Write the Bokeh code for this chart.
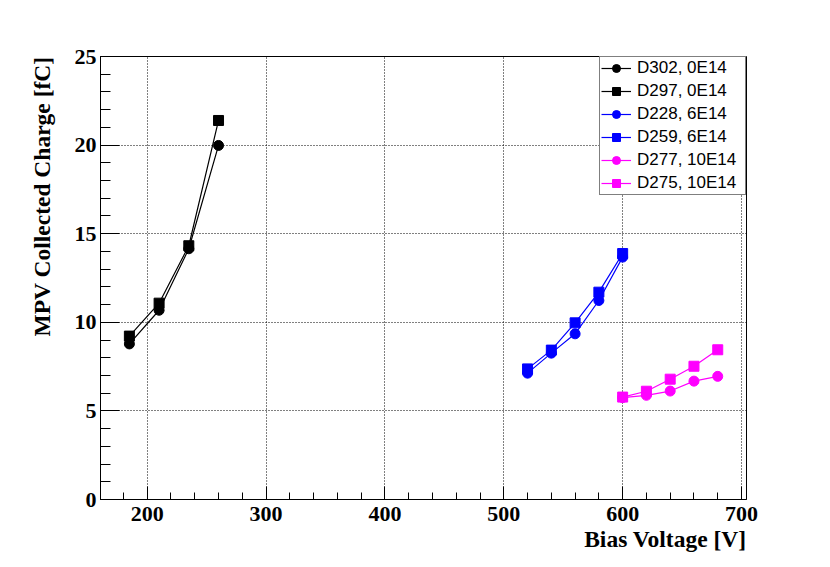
from bokeh.plotting import figure
from bokeh.models import Range1d, FixedTicker, Legend, Title
from bokeh.embed import file_html
from bokeh.resources import INLINE

# ---- data ----
v_0e14 = [185, 210, 235, 260]
d302 = [8.78, 10.68, 14.15, 19.98]
d297 = [9.22, 11.08, 14.32, 21.39]

v_6e14 = [520, 540, 560, 580, 600]
d228 = [7.13, 8.26, 9.35, 11.23, 13.68]
d259 = [7.37, 8.43, 9.97, 11.70, 13.88]

v_10e14 = [600, 620, 640, 660, 680]
d277 = [5.75, 5.88, 6.12, 6.68, 6.95]
d275 = [5.78, 6.11, 6.79, 7.52, 8.45]

x_ticks = [200, 300, 400, 500, 600, 700]
y_ticks = [0, 5, 10, 15, 20, 25]

series = [
    ("D302, 0E14", v_0e14, d302, "black", "circle"),
    ("D297, 0E14", v_0e14, d297, "black", "square"),
    ("D228, 6E14", v_6e14, d228, "#0000ff", "circle"),
    ("D259, 6E14", v_6e14, d259, "#0000ff", "square"),
    ("D277, 10E14", v_10e14, d277, "#ff00ff", "circle"),
    ("D275, 10E14", v_10e14, d275, "#ff00ff", "square"),
]

p = figure(width=822, height=559, output_backend="svg", toolbar_location=None,
           x_range=Range1d(160.7, 704.2), y_range=Range1d(0, 25),
           min_border_left=100, min_border_right=76, min_border_top=56,
           min_border_bottom=60)

p.background_fill_color = "white"
p.border_fill_color = "white"
p.outline_line_color = "black"
p.outline_line_width = 1

serif = "Liberation Serif"

for ax in (p.xaxis[0], p.yaxis[0]):
    ax.major_label_text_font = serif
    ax.major_label_text_font_style = "bold"
    ax.major_label_text_font_size = "22px"
    ax.major_label_text_color = "black"
    ax.axis_line_color = "black"
    ax.major_tick_line_color = "black"
    ax.minor_tick_line_color = "black"
    ax.major_tick_out = 0
    ax.minor_tick_out = 0

p.xaxis[0].ticker = FixedTicker(ticks=x_ticks,
                                minor_ticks=list(range(180, 704, 20)))
p.yaxis[0].ticker = FixedTicker(ticks=y_ticks, minor_ticks=list(range(0, 26)))
p.xaxis[0].major_tick_in = 13
p.xaxis[0].minor_tick_in = 7
p.yaxis[0].major_tick_in = 19
p.yaxis[0].minor_tick_in = 10
p.xaxis[0].major_label_standoff = 7
p.yaxis[0].major_label_standoff = 4

for g in (p.xgrid[0], p.ygrid[0]):
    g.grid_line_color = "black"
    g.grid_line_dash = "1 2"
    g.grid_line_width = 1

items = []
for name, xs, ys, col, mk in series:
    r1 = p.line(xs, ys, line_color=col, line_width=1.2)
    r2 = p.scatter(xs, ys, marker=mk, size=10, fill_color=col, line_color=col)
    items.append((name, [r1, r2]))

leg = Legend(items=items, location="top_right")
leg.margin = 0
leg.padding = 1
leg.spacing = 3
leg.label_height = 20
leg.glyph_height = 20
leg.glyph_width = 30
leg.label_standoff = 6
leg.label_width = 107
leg.label_text_font = "Liberation Sans"
leg.label_text_font_size = "17px"
leg.label_text_color = "black"
leg.border_line_color = "black"
leg.border_line_width = 1
leg.background_fill_color = "white"
leg.background_fill_alpha = 1.0
p.add_layout(leg, "center")

xt = Title(text="Bias Voltage [V]", align="right", standoff=0,
           text_font=serif, text_font_style="bold", text_font_size="23.5px",
           text_color="black")
p.add_layout(xt, "below")
yt = Title(text="MPV Collected Charge [fC]", align="right", standoff=33,
           text_font=serif, text_font_style="bold", text_font_size="23.5px",
           text_color="black")
p.add_layout(yt, "left")

open("out.html", "w").write(file_html(p, INLINE))
